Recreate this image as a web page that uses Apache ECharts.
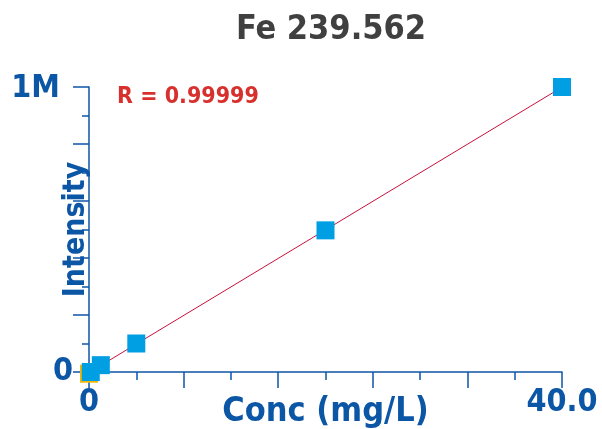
<!DOCTYPE html>
<html>
<head>
<meta charset="utf-8">
<style>
  html, body { margin: 0; padding: 0; background: #ffffff; }
  #chart { width: 602px; height: 429px; }
</style>
<script src="https://cdn.jsdelivr.net/npm/echarts@6/dist/echarts.min.js"></script>
</head>
<body>
<div id="chart"></div>
<script>
// Calibration standards for Fe 239.562
const stdConc = [0.15, 1, 4, 20, 40];
const stdIntensity = [0, 24000, 100000, 497000, 1000000];
// Calibration blank
const blankConc = [0];
const blankIntensity = [-6000];
// Axis tick labels
const xTickLabels = { 0: '0', 40: '40.0' };
const yTickLabels = { 0: '0', 1000000: '1M' };
const correlationText = 'R = 0.99999';

const FONT = '"DejaVu Sans Condensed", "DejaVu Sans", sans-serif';
const AXIS_BLUE = '#0c56a6';

// Least-squares fit through the standards
function linearFit(xs, ys) {
  const n = xs.length;
  let sx = 0, sy = 0, sxx = 0, sxy = 0;
  for (let i = 0; i < n; i++) {
    sx += xs[i]; sy += ys[i]; sxx += xs[i] * xs[i]; sxy += xs[i] * ys[i];
  }
  const slope = (n * sxy - sx * sy) / (n * sxx - sx * sx);
  const intercept = (sy - slope * sx) / n;
  return { slope, intercept };
}
const fit = linearFit(stdConc, stdIntensity);
const fitX0 = 0;
const fitX1 = Math.max.apply(null, stdConc);
const fitLine = [
  [fitX0, fit.slope * fitX0 + fit.intercept],
  [fitX1, fit.slope * fitX1 + fit.intercept]
];

const chart = echarts.init(document.getElementById('chart'), null, { renderer: 'canvas' });

chart.setOption({
  animation: false,
  backgroundColor: '#ffffff',
  title: {
    text: 'Fe 239.562',
    left: 326,
    textAlign: 'center',
    top: 8,
    textStyle: { fontFamily: FONT, fontWeight: 'bold', fontSize: 34, color: '#404040' }
  },
  grid: {
    left: 89, right: 40, top: 87, bottom: 57,
    containLabel: false,
    outerBoundsMode: 'none'
  },
  graphic: [{
    type: 'text',
    left: 117,
    top: 86,
    style: {
      text: correlationText,
      font: 'bold 23px ' + FONT,
      fill: '#d7302d'
    }
  }],
  xAxis: {
    type: 'value',
    min: 0, max: 40, interval: 8,
    name: 'Conc (mg/L)',
    nameLocation: 'middle',
    nameGap: 23,
    nameMoveOverlap: false,
    nameTextStyle: { fontFamily: FONT, fontWeight: 'bold', fontSize: 34, color: AXIS_BLUE },
    axisLine: { show: true, onZero: false, lineStyle: { color: AXIS_BLUE, width: 1.5 } },
    axisTick: { show: true, inside: false, length: 16, lineStyle: { color: AXIS_BLUE, width: 1.5 } },
    minorTick: { show: true, splitNumber: 2, length: 8, lineStyle: { color: AXIS_BLUE, width: 1.5 } },
    splitLine: { show: false },
    axisLabel: {
      margin: 15,
      fontFamily: FONT, fontWeight: 'bold', fontSize: 32, color: AXIS_BLUE,
      showMinLabel: true, showMaxLabel: true,
      formatter: v => (xTickLabels[v] !== undefined ? xTickLabels[v] : '')
    }
  },
  yAxis: {
    type: 'value',
    min: 0, max: 1000000, interval: 200000,
    name: 'Intensity',
    nameLocation: 'middle',
    nameGap: -2,
    nameRotate: 90,
    nameMoveOverlap: false,
    nameTextStyle: { fontFamily: FONT, fontWeight: 'bold', fontSize: 30, color: AXIS_BLUE },
    axisLine: { show: true, onZero: false, lineStyle: { color: AXIS_BLUE, width: 1.5 } },
    axisTick: { show: true, inside: false, length: 16, lineStyle: { color: AXIS_BLUE, width: 1.5 } },
    minorTick: { show: true, splitNumber: 2, length: 7, lineStyle: { color: AXIS_BLUE, width: 1.5 } },
    splitLine: { show: false },
    axisLabel: {
      margin: 16,
      fontFamily: FONT, fontWeight: 'bold', fontSize: 32, color: AXIS_BLUE,
      showMinLabel: true, showMaxLabel: true,
      formatter: v => {
        const t = yTickLabels[v];
        if (t === undefined) return '';
        return v === 0 ? t : '{top|' + t + '}';
      },
      rich: {
        top: { fontFamily: FONT, fontWeight: 'bold', fontSize: 32, color: AXIS_BLUE, padding: [4, 13, 0, 0] }
      }
    }
  },
  series: [
    {
      name: 'Fit',
      type: 'line',
      data: fitLine,
      showSymbol: false,
      symbol: 'none',
      lineStyle: { color: '#c8103c', width: 1 },
      z: 2
    },
    {
      name: 'Blank',
      type: 'scatter',
      data: blankConc.map((c, i) => [c, blankIntensity[i]]),
      symbol: 'rect',
      symbolSize: 18,
      clip: false,
      itemStyle: { color: '#f2b705', opacity: 1 },
      z: 3
    },
    {
      name: 'Standards',
      type: 'scatter',
      data: stdConc.map((c, i) => [c, stdIntensity[i]]),
      symbol: 'rect',
      symbolSize: 18,
      clip: false,
      itemStyle: { color: '#009fe3', opacity: 1 },
      z: 4
    }
  ]
});
</script>
</body>
</html>
